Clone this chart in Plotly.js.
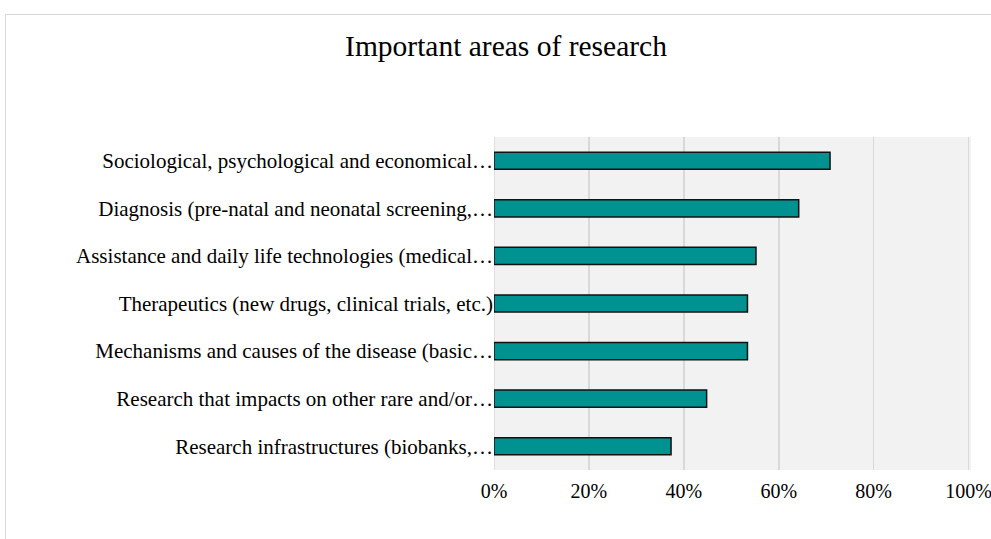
<!DOCTYPE html>
<html>
<head>
<meta charset="utf-8">
<script src="https://cdn.plot.ly/plotly-3.0.1.min.js"></script>
<style>
  html, body { margin: 0; padding: 0; background: #ffffff; }
  #frame { position: absolute; left: 5px; top: 14px; width: 1100px; height: 700px; border: 1px solid #d9d9d9; box-sizing: border-box; }
  #chart { position: absolute; left: 0; top: 0; width: 991px; height: 539px; }
</style>
</head>
<body>
<div id="frame"></div>
<div id="chart"></div>
<script>
const categories = [
  "Sociological, psychological and economical…",
  "Diagnosis (pre-natal and neonatal screening,…",
  "Assistance and daily life technologies (medical…",
  "Therapeutics (new drugs, clinical trials, etc.)",
  "Mechanisms and causes of the disease (basic…",
  "Research that impacts on other rare and/or…",
  "Research infrastructures (biobanks,…"
];
const values = [0.708, 0.642, 0.552, 0.534, 0.534, 0.448, 0.373];
const tickVals = [0, 0.2, 0.4, 0.6, 0.8, 1.0];
const tickText = ["0%", "20%", "40%", "60%", "80%", "100%"];
const chartTitle = "Important areas of research";

const serif = "'Times New Roman', 'Liberation Serif', serif";

const trace = {
  type: 'bar',
  orientation: 'h',
  x: values,
  y: categories,
  width: 0.36,
  marker: { color: '#009290', line: { color: '#111111', width: 1.5 } },
  hoverinfo: 'x+y'
};

const layout = {
  width: 991,
  height: 539,
  margin: { l: 494, r: 19.5, t: 137, b: 69 },
  paper_bgcolor: 'rgba(0,0,0,0)',
  plot_bgcolor: '#f2f2f2',
  showlegend: false,
  font: { family: serif, size: 20, color: '#000000' },
  title: {
    text: chartTitle,
    font: { family: serif, size: 29.5, color: '#000000' },
    x: 506 / 991, xanchor: 'center', xref: 'container',
    y: 1 - 46 / 539, yanchor: 'middle', yref: 'container'
  },
  xaxis: {
    range: [0, 1.005],
    tickvals: tickVals,
    ticktext: tickText,
    showgrid: true,
    gridcolor: '#d9d9d9',
    gridwidth: 1.5,
    zeroline: false,
    showline: false,
    ticks: 'outside',
    ticklen: 3,
    tickcolor: 'rgba(0,0,0,0)',
    ticklabeloverflow: 'allow',
    tickfont: { family: serif, size: 20, color: '#000000' },
    fixedrange: true
  },
  yaxis: {
    type: 'category',
    autorange: 'reversed',
    showgrid: false,
    zeroline: false,
    showline: false,
    ticks: '',
    tickfont: { family: serif, size: 21, color: '#000000' },
    fixedrange: true
  },
  shapes: [{
    type: 'line', xref: 'x', yref: 'paper', x0: 0, x1: 0, y0: 0, y1: 1,
    line: { color: '#d9d9d9', width: 1.5 }, layer: 'below'
  }]
};

Plotly.newPlot('chart', [trace], layout, { displayModeBar: false, staticPlot: true });
</script>
</body>
</html>
